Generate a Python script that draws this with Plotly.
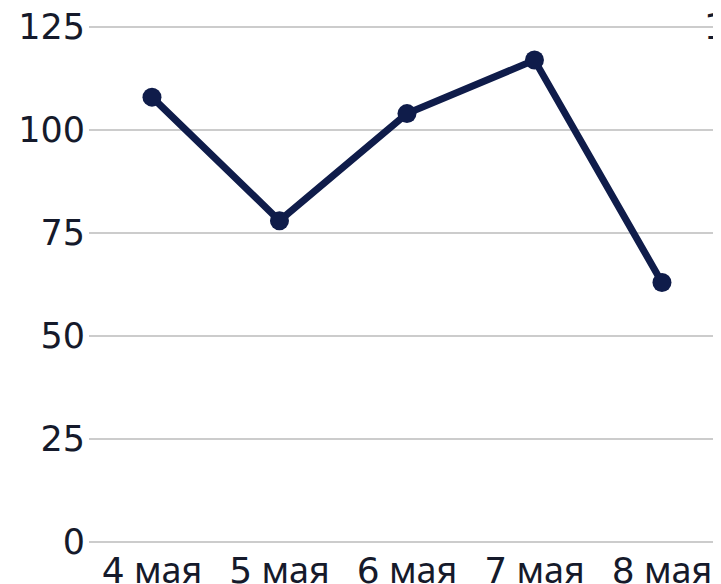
import plotly.graph_objects as go

days = ["4", "5", "6", "7", "8"]
month = "мая"
values = [108, 78, 104, 117, 63]
y_ticks = [0, 25, 50, 75, 100, 125]

TXT_FONT = "Noto Sans, Open Sans, sans-serif"
NUM_FONT = "DejaVu Sans"
DARK = "#151a2b"
NAVY = "#0f1c4a"

x_labels = [f"<span style='font-family:DejaVu Sans'>{d}</span> {month}" for d in days]

fig = go.Figure()
fig.add_trace(go.Scatter(
    x=list(range(len(days))), y=values, mode="lines+markers",
    line=dict(color=NAVY, width=7),
    marker=dict(color=NAVY, size=19),
    hoverinfo="skip", showlegend=False,
))

fig.update_layout(
    width=713, height=576,
    margin=dict(l=81, r=0, t=15, b=38),
    plot_bgcolor="white", paper_bgcolor="white",
    xaxis=dict(
        range=[-0.494, 4.463], automargin=False,
        tickmode="array", tickvals=list(range(len(days))), ticktext=x_labels,
        showgrid=False, zeroline=False, showline=False,
        tickfont=dict(family=TXT_FONT, size=36, color=DARK),
        ticks="", ticklabelstandoff=0, ticklabeloverflow="allow",
    ),
    yaxis=dict(
        range=[-1, 126], automargin=False,
        tickmode="array", tickvals=y_ticks,
        ticktext=[str(v) for v in y_ticks],
        showgrid=True, gridcolor="#cccccc", gridwidth=2,
        zeroline=False, showline=False,
        tickfont=dict(family=NUM_FONT, size=35, color=DARK),
        ticks="", ticklabelstandoff=3, ticklabeloverflow="allow",
    ),
    annotations=[dict(
        x=1.0, xref="paper", xanchor="left", xshift=-19,
        y=125, yref="y", yanchor="middle", yshift=0,
        text="1", showarrow=False,
        font=dict(family=NUM_FONT, size=35, color=DARK),
    )],
)

fig.write_html("out.html")
